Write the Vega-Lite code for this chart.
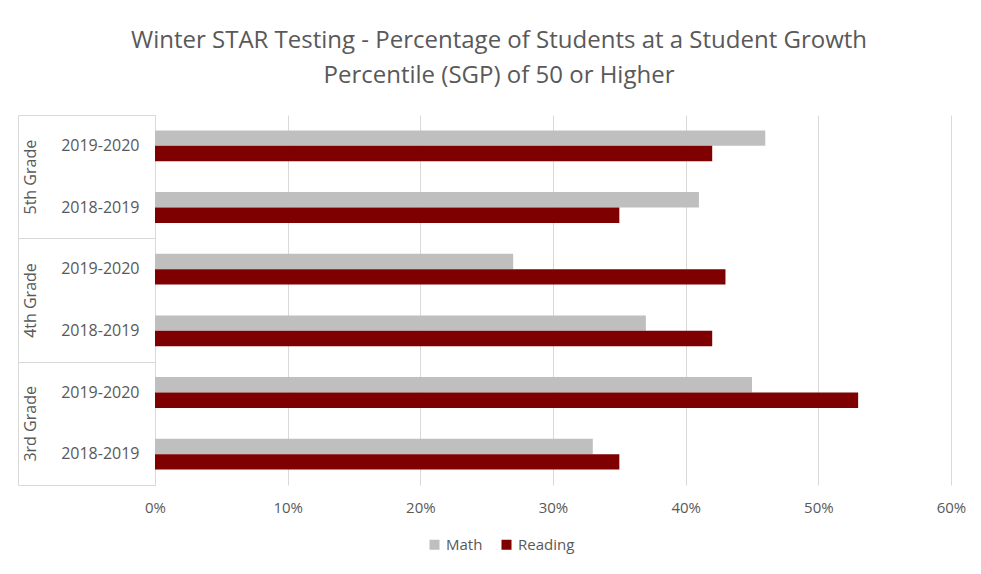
{
  "$schema": "https://vega.github.io/schema/vega-lite/v6.json",
  "width": 796,
  "height": 370,
  "autosize": {"type": "none"},
  "padding": {"left": 155, "top": 115, "right": 30, "bottom": 89},
  "background": "white",
  "config": {"font": "Open Sans", "view": {"stroke": null}},
  "title": {
    "text": ["Winter STAR Testing - Percentage of Students at a Student Growth", "Percentile (SGP) of 50 or Higher"],
    "fontSize": 24,
    "fontWeight": "normal",
    "color": "#595959",
    "font": "Open Sans",
    "anchor": "middle",
    "frame": "group",
    "dx": -54,
    "offset": 27,
    "lineHeight": 35
  },
  "data": {
    "values": [
      {"grade": "5th Grade", "year": "2019-2020", "group": "5th|2019-2020", "subject": "Math", "value": 46},
      {"grade": "5th Grade", "year": "2019-2020", "group": "5th|2019-2020", "subject": "Reading", "value": 42},
      {"grade": "5th Grade", "year": "2018-2019", "group": "5th|2018-2019", "subject": "Math", "value": 41},
      {"grade": "5th Grade", "year": "2018-2019", "group": "5th|2018-2019", "subject": "Reading", "value": 35},
      {"grade": "4th Grade", "year": "2019-2020", "group": "4th|2019-2020", "subject": "Math", "value": 27},
      {"grade": "4th Grade", "year": "2019-2020", "group": "4th|2019-2020", "subject": "Reading", "value": 43},
      {"grade": "4th Grade", "year": "2018-2019", "group": "4th|2018-2019", "subject": "Math", "value": 37},
      {"grade": "4th Grade", "year": "2018-2019", "group": "4th|2018-2019", "subject": "Reading", "value": 42},
      {"grade": "3rd Grade", "year": "2019-2020", "group": "3rd|2019-2020", "subject": "Math", "value": 45},
      {"grade": "3rd Grade", "year": "2019-2020", "group": "3rd|2019-2020", "subject": "Reading", "value": 53},
      {"grade": "3rd Grade", "year": "2018-2019", "group": "3rd|2018-2019", "subject": "Math", "value": 33},
      {"grade": "3rd Grade", "year": "2018-2019", "group": "3rd|2018-2019", "subject": "Reading", "value": 35}
    ]
  },
  "layer": [
    {
      "mark": {"type": "bar"},
      "encoding": {
        "y": {
          "field": "group",
          "type": "nominal",
          "sort": ["5th|2019-2020", "5th|2018-2019", "4th|2019-2020", "4th|2018-2019", "3rd|2019-2020", "3rd|2018-2019"],
          "scale": {"paddingInner": 0.5, "paddingOuter": 0.25},
          "axis": {
            "title": null,
            "labelExpr": "split(datum.label,'|')[1]",
            "ticks": false,
            "domain": true,
            "domainColor": "#D9D9D9",
            "labelPadding": 16,
            "labelFontSize": 16,
            "labelColor": "#595959"
          }
        },
        "yOffset": {"field": "subject", "type": "nominal", "sort": ["Math", "Reading"]},
        "x": {
          "field": "value",
          "type": "quantitative",
          "scale": {"domain": [0, 60]},
          "axis": {
            "title": null,
            "values": [0, 10, 20, 30, 40, 50, 60],
            "labelExpr": "datum.value + '%'",
            "labelFlush": false,
            "grid": true,
            "gridColor": "#D9D9D9",
            "domain": false,
            "ticks": false,
            "labelPadding": 15,
            "labelFontSize": 15,
            "labelColor": "#595959"
          }
        },
        "color": {
          "field": "subject",
          "type": "nominal",
          "scale": {"domain": ["Math", "Reading"], "range": ["#BFBFBF", "#7F0000"]},
          "legend": {
            "title": null,
            "orient": "none",
            "legendX": 272,
            "legendY": 422,
            "direction": "horizontal",
            "symbolType": "square",
            "symbolSize": 100,
            "symbolStrokeWidth": 0,
            "labelFontSize": 15,
            "labelColor": "#595959",
            "columnPadding": 16,
            "labelOffset": 4
          }
        }
      }
    },
    {
      "mark": {"type": "rule", "opacity": 0},
      "encoding": {
        "y": {
          "field": "grade",
          "type": "nominal",
          "sort": ["5th Grade", "4th Grade", "3rd Grade"],
          "scale": {"paddingInner": 0, "paddingOuter": 0},
          "axis": {
            "orient": "left",
            "offset": 137,
            "title": null,
            "domain": true,
            "domainColor": "#D9D9D9",
            "tickBand": "extent",
            "tickSize": -137,
            "tickColor": "#D9D9D9",
            "labelAngle": -90,
            "labelAlign": "center",
            "labelBaseline": "middle",
            "labelPadding": 125,
            "labelFontSize": 16,
            "labelColor": "#595959"
          }
        }
      }
    }
  ],
  "resolve": {"scale": {"y": "independent"}, "axis": {"y": "independent"}}
}
